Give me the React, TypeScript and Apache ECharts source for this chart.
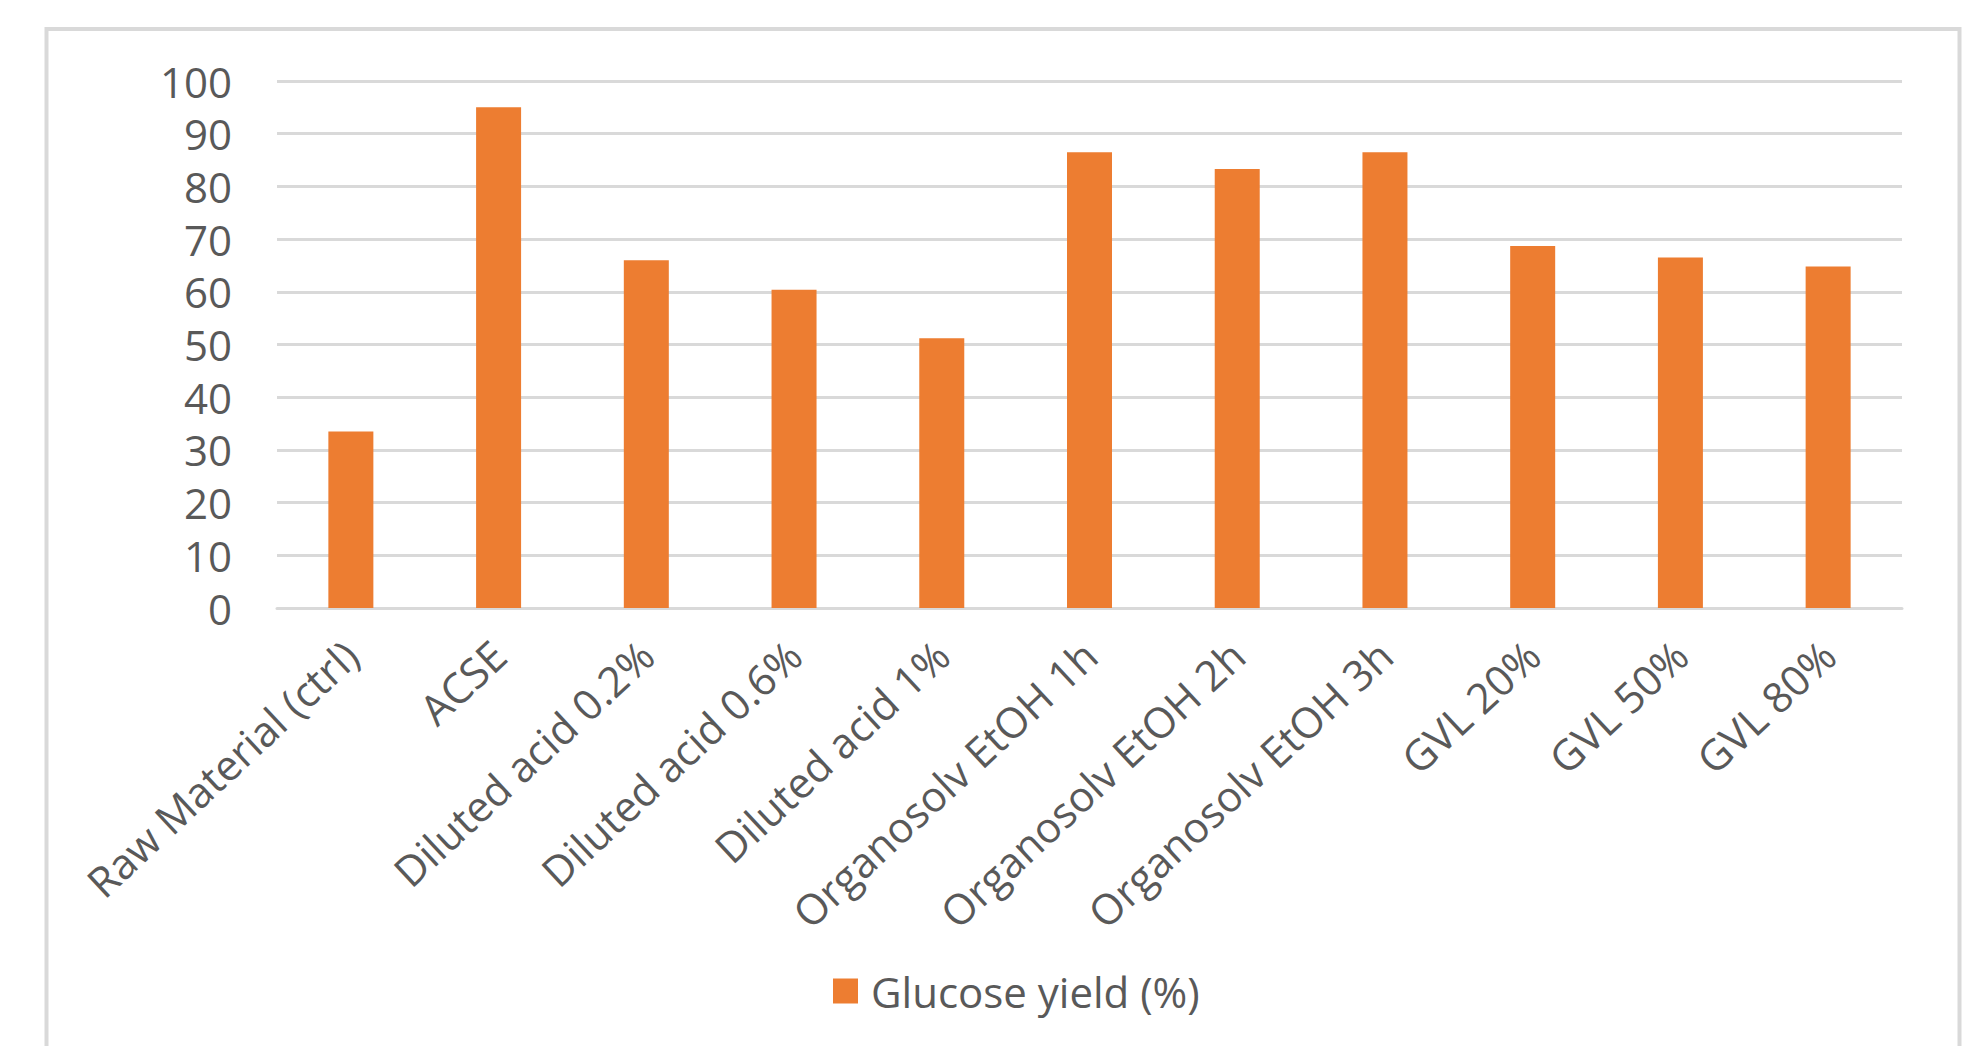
import React, { useEffect, useRef } from "react";
import * as echarts from "echarts";

const categories = [
  "Raw Material (ctrl)",
  "ACSE",
  "Diluted acid 0.2%",
  "Diluted acid 0.6%",
  "Diluted acid 1%",
  "Organosolv EtOH 1h",
  "Organosolv EtOH 2h",
  "Organosolv EtOH 3h",
  "GVL 20%",
  "GVL 50%",
  "GVL 80%",
];
const glucoseYield = [33.5, 95.0, 66.0, 60.4, 51.2, 86.5, 83.3, 86.5, 68.7, 66.5, 64.8];
const seriesName = "Glucose yield (%)";
const yMin = 0;
const yMax = 100;
const yStep = 10;

const FONT = "'Open Sans', 'Liberation Sans', sans-serif";
const TEXT = "#595959";
const GRID = "#d9d9d9";
const BAR = "#ED7D31";

export default function App() {
  const ref = useRef<HTMLDivElement>(null);
  useEffect(() => {
    if (!ref.current) return;
    const chart = echarts.init(ref.current, null, { renderer: "svg" });
    chart.setOption({
      animation: false,
      backgroundColor: "#ffffff",
      textStyle: { fontFamily: FONT },
      grid: { left: 277, right: 81, top: 81, bottom: 438, containLabel: false },
      graphic: [
        {
          type: "rect",
          shape: { x: 46.5, y: 29, width: 1913, height: 1100 },
          style: { fill: "none", stroke: GRID, lineWidth: 4 },
          silent: true,
          z: -1,
        },
      ],
      legend: {
        show: true,
        left: 828,
        top: 965,
        itemWidth: 25,
        itemHeight: 25,
        icon: "rect",
        textStyle: { color: TEXT, fontSize: 42, fontFamily: FONT, padding: [0, 0, 0, 8] },
        data: [seriesName],
      },
      xAxis: {
        type: "category",
        data: categories,
        axisLine: { show: true, lineStyle: { color: GRID, width: 3 } },
        axisTick: { show: false },
        axisLabel: {
          rotate: 43,
          interval: 0,
          margin: 40,
          color: TEXT,
          fontSize: 42,
          fontFamily: FONT,
        },
        splitLine: { show: false },
      },
      yAxis: {
        type: "value",
        min: yMin,
        max: yMax,
        interval: yStep,
        axisLine: { show: false },
        axisTick: { show: false },
        axisLabel: { color: TEXT, fontSize: 42, fontFamily: FONT, margin: 45, padding: [0, 0, 12, 0] },
        splitLine: { show: true, lineStyle: { color: GRID, width: 3 } },
      },
      series: [
        {
          name: seriesName,
          type: "bar",
          data: glucoseYield,
          barWidth: 45,
          itemStyle: { color: BAR },
        },
      ],
    });
    return () => chart.dispose();
  }, []);
  return (
    <div
      ref={ref}
      style={{ position: "fixed", left: 0, top: 0, width: 1983, height: 1046 }}
    />
  );
}
